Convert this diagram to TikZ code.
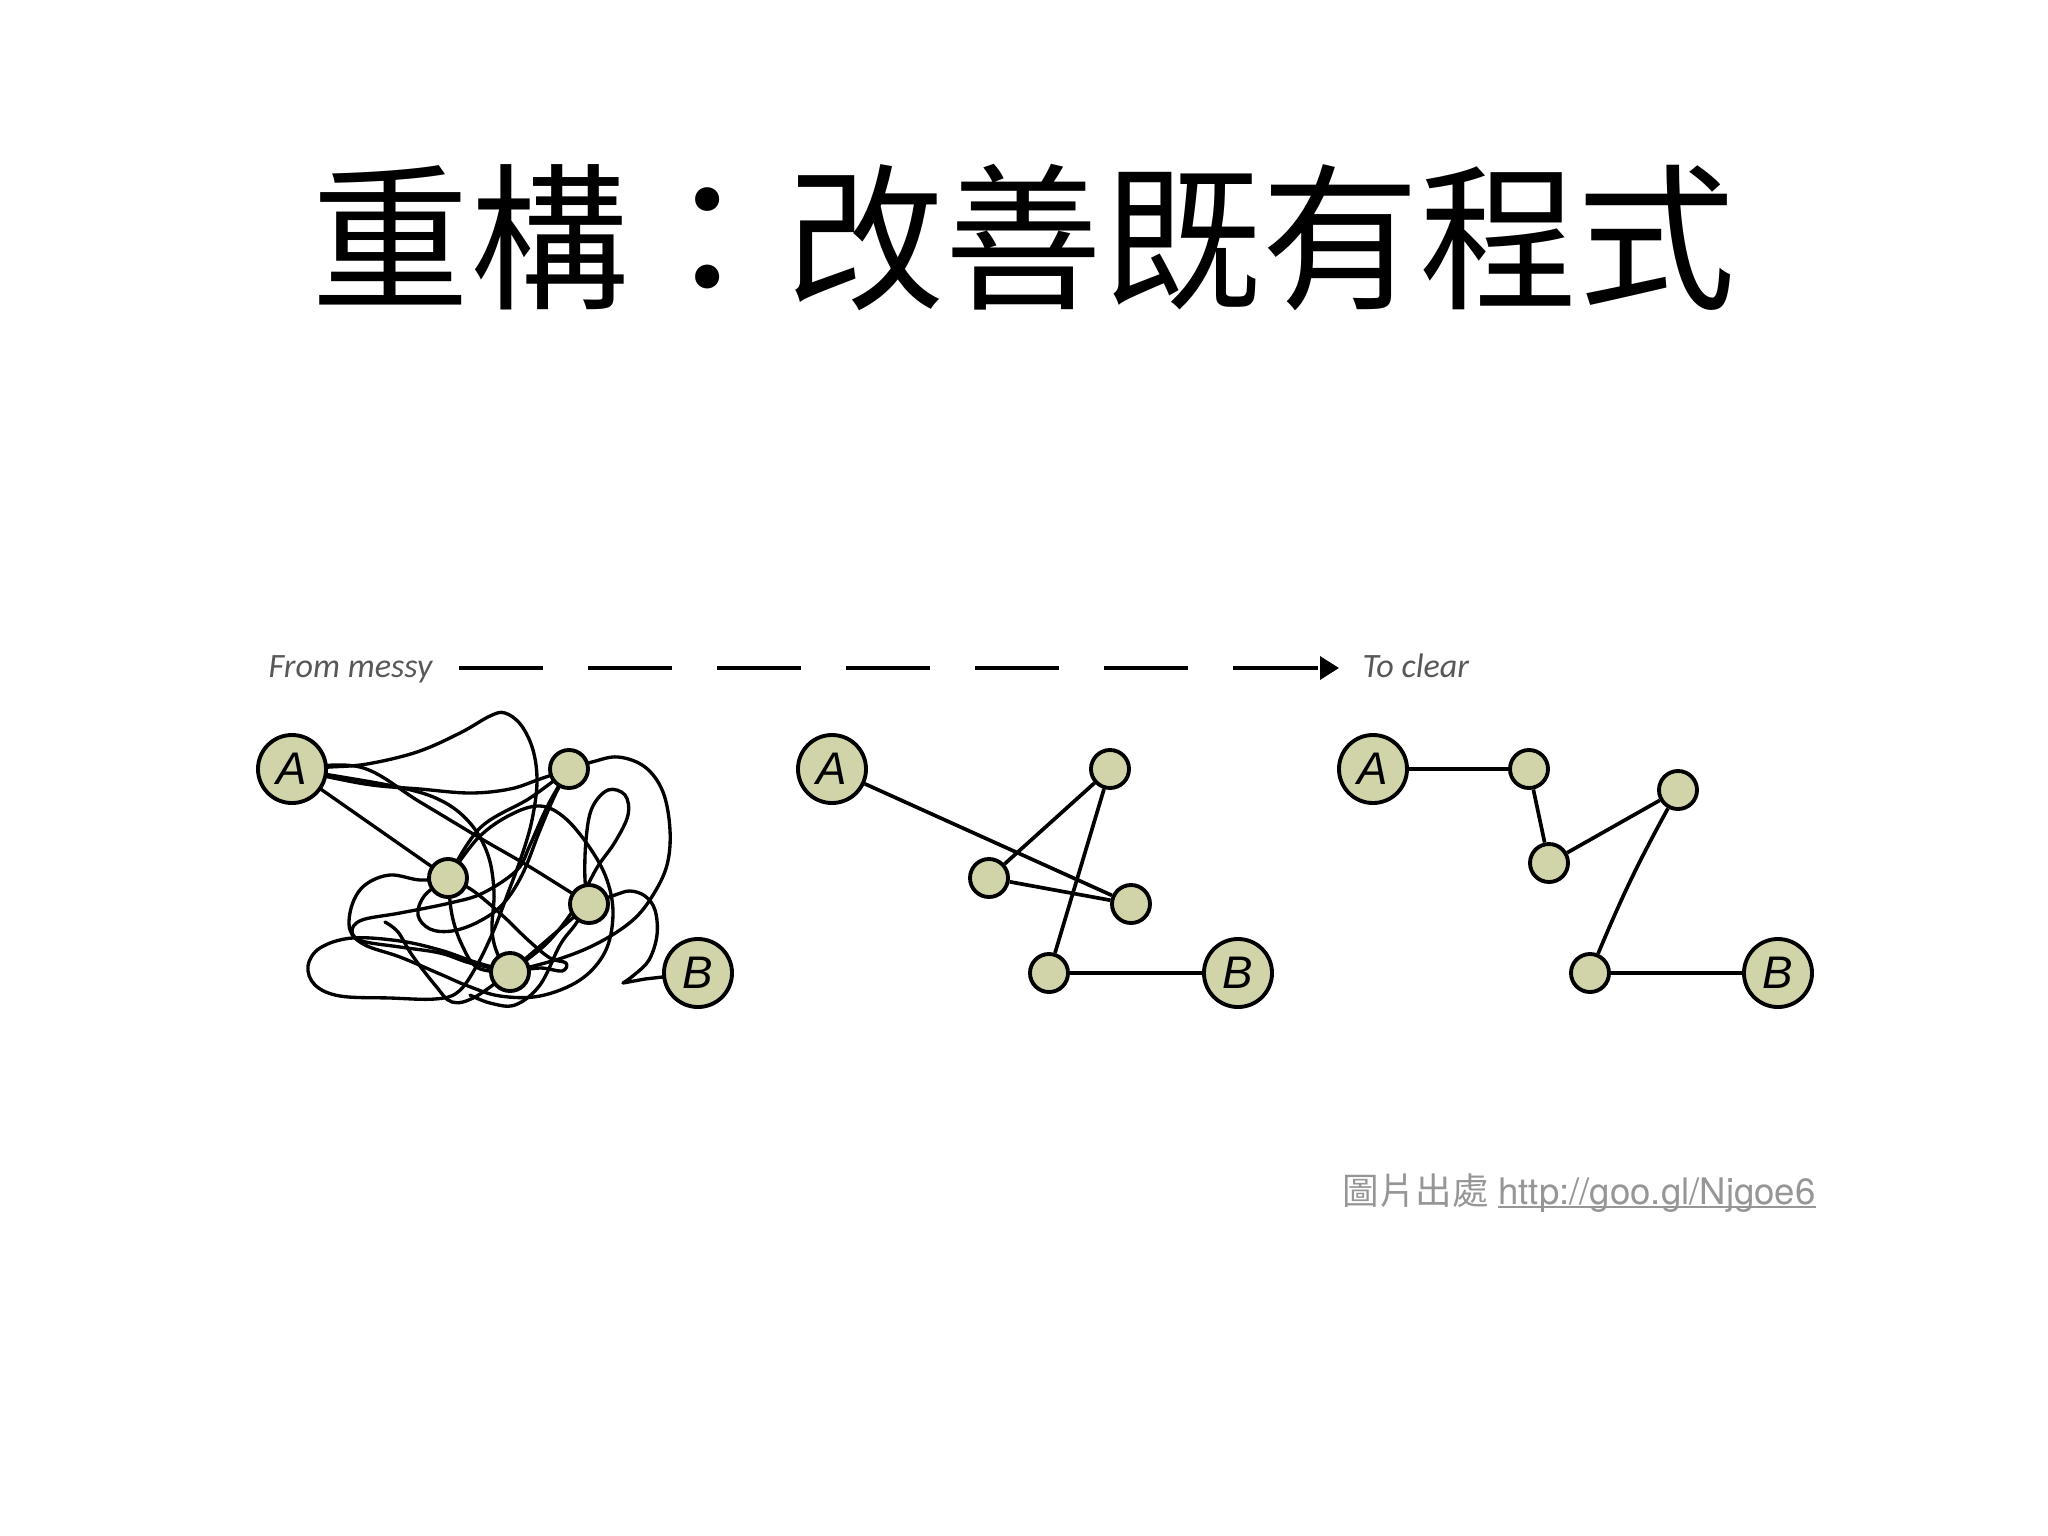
\documentclass[tikz,border=0pt]{standalone}
\usepackage{fontspec}
\setmainfont{Liberation Sans}
\newfontfamily\cjk{Noto Sans CJK TC}
\newfontfamily\notefont{Carlito}
\newfontfamily\linkfont{TeX Gyre Heros}
\usetikzlibrary{positioning,arrows.meta}

\definecolor{nodefill}{RGB}{209,211,168}
\definecolor{notegray}{RGB}{88,88,88}
\definecolor{creditgray}{RGB}{150,150,150}

\tikzset{
  bignode/.style={circle,draw,line width=1.1pt,fill=nodefill,minimum size=0.68cm,inner sep=0pt,
    font=\fontsize{13pt}{13pt}\selectfont\itshape},
  smallnode/.style={circle,draw,line width=1.1pt,fill=nodefill,minimum size=0.38cm,inner sep=0pt},
  wire/.style={line width=1.05pt},
  mess/.style={line width=0.95pt,line join=round,line cap=round},
  flow/.style={line width=1pt,dash pattern=on 0.84cm off 0.45cm,-{Triangle[length=0.19cm,width=0.23cm]}},
  note/.style={font=\notefont\fontsize{9.7pt}{10pt}\selectfont\itshape,text=notegray,inner sep=0pt},
  credit/.style={text=creditgray,inner sep=0pt},
}

\begin{document}
\begin{tikzpicture}[x=0.01cm,y=-0.01cm]
\useasboundingbox (0,0) rectangle (2048,1536);

\node[font=\cjk\fontsize{45pt}{50pt}\selectfont] (title) at (1024,238) {重構：改善既有程式};

% from messy to clear
\coordinate (flowstart) at (459,668);
\coordinate (flowend) at (1339,668);
\draw[flow] (flowstart) -- (flowend);
\node[note,anchor=base west] (messy) at (268,677) {From messy};
\node[note,anchor=base west] (clear) at (1362,677) {To clear};

% messy
\coordinate (ma) at (292,769);
\coordinate (mt) at (569,769);
\coordinate (mm) at (448,878);
\coordinate (mr) at (589,904);
\coordinate (mb) at (510,972);
\coordinate (mB) at (698,973);

\draw[mess] plot[smooth,tension=0.6] coordinates {(ma) (330,767) (367,764) (417,752) (460,733) (490,716) (505,713) (521,725) (533,750) (537,782) (532,820) (522,855) (508,893) (493,932) (476,967) (458,992) (435,999) (390,998) (340,996) (315,985) (308,966) (320,948) (352,938) (400,941) (440,950) (475,962) (mb)};
\draw[mess] plot[smooth,tension=0.6] coordinates {(ma) (365,784) (420,789) (470,793) (510,789) (540,779) (mt)};
\draw[mess] (ma) -- (mm);
\draw[mess] plot[smooth,tension=0.6] coordinates {(ma) (360,767) (420,802) (480,838) (530,867) (mr)};
\draw[mess] plot[smooth,tension=0.6] coordinates {(ma) (393,786) (440,800) (470,823) (488,855) (494,892) (492,930) (498,955) (mb)};
\draw[mess] plot[smooth,tension=0.6] coordinates {(mm) (480,828) (530,798) (mt)};
\draw[mess] plot[smooth,tension=0.6] coordinates {(mt) (592,762) (618,757) (645,767) (663,792) (670,830) (667,865) (653,895) (633,920) (600,942) (562,958) (mb)};
\draw[mess] plot[smooth,tension=0.6] coordinates {(mr) (585,880) (586,840) (592,808) (608,790) (625,795) (628,815) (615,842) (598,866) (585,890) (570,915) (545,945) (mb)};
\draw[mess] plot[smooth,tension=0.6] coordinates {(mm) (478,838) (510,815) (540,806) (565,818) (590,848) (607,880) (613,915) (605,952) (580,980) (540,996) (500,996) (468,986) (440,974) (400,957) (365,945) (350,930) (352,905) (365,885) (390,875) (420,880) (mm)};
\draw[mess] plot[smooth,tension=0.6] coordinates {(mm) (425,895) (418,915) (430,929) (452,931) (478,922) (502,905) (522,875) (540,830) (555,795) (mt)};
\draw[mess] plot[smooth,tension=0.6] coordinates {(mr) (615,895) (630,891) (645,896) (655,910) (657,935) (649,960) (634,975) (623,983)} -- (645,979) -- (mB);
\draw[mess] plot[smooth,tension=0.6] coordinates {(385,922) (398,932) (412,955) (435,985) (452,1002) (475,997) (mb)};
\draw[mess] plot[smooth,tension=0.6] coordinates {(mm) (472,890) (502,915) (528,940) (550,958) (566,963) (562,971) (540,968) (mb)};
\draw[mess] plot[smooth,tension=0.6] coordinates {(mm) (452,915) (462,945) (478,968) (mb)};
\draw[mess] plot[smooth,tension=0.6] coordinates {(mt) (548,805) (530,845) (517,870) (483,893) (450,903) (400,913) (362,920) (352,931) (362,941) (400,947) (440,953) (470,963) (mb)};
\draw[mess] plot[smooth,tension=0.6] coordinates {(mr) (575,925) (560,945) (540,985) (515,1005) (490,1003) (470,995)};
\draw[mess] (mr) -- (mb);

\node[bignode] (ma) at (ma) {A};
\node[smallnode] (mt) at (mt) {};
\node[smallnode] (mm) at (mm) {};
\node[smallnode] (mr) at (mr) {};
\node[smallnode] (mb) at (mb) {};
\node[bignode] (mB) at (mB) {B};

% still crossing
\node[bignode] (ca) at (832,769) {A};
\node[smallnode] (ct) at (1110,769) {};
\node[smallnode] (cl) at (989,878) {};
\node[smallnode] (cr) at (1131,904) {};
\node[smallnode] (cb) at (1049,973) {};
\node[bignode] (cB) at (1238,973) {B};
\draw[wire] (ca) -- (cr);
\draw[wire] (ct) -- (cl);
\draw[wire] (ct) -- (cb);
\draw[wire] (cl) -- (cr);
\draw[wire] (cb) -- (cB);

% clear
\node[bignode] (ta) at (1373,769) {A};
\node[smallnode] (t1) at (1529,769) {};
\node[smallnode] (t2) at (1549,863) {};
\node[smallnode] (t3) at (1678,790) {};
\node[smallnode] (t4) at (1590,973) {};
\node[bignode] (tB) at (1778,973) {B};
\draw[wire] (ta) -- (t1);
\draw[wire] (t1) -- (t2);
\draw[wire] (t2) -- (t3);
\draw[wire] (t3) to[bend right=3] (t4);
\draw[wire] (t4) -- (tB);

% source
\node[credit,anchor=base west,font=\cjk\fontsize{10.4pt}{12pt}\selectfont] (source) at (1342,1204) {圖片出處};
\node[credit,base right=0.08cm of source,font=\linkfont\fontsize{10.4pt}{12pt}\selectfont] (url) {http://goo.gl/Njgoe6};
\draw[creditgray,line width=0.5pt] ([yshift=-0.03cm]url.base west) -- ([yshift=-0.03cm]url.base east);
\end{tikzpicture}
\end{document}
